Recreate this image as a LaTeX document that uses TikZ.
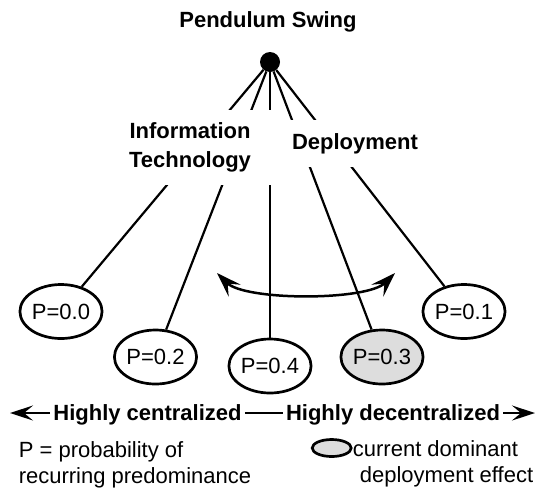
\documentclass[tikz,border=0pt]{standalone}
\usepackage{fontspec}
\setmainfont{Liberation Sans}
\usetikzlibrary{arrows.meta,shapes.geometric}
\definecolor{dominant}{RGB}{221,221,221}
\tikzset{
  axistip/.tip={Stealth[length=23pt, width=15pt, inset=9pt]},
  swingtip/.tip={Stealth[length=25pt, width=17pt, inset=10pt]}}
\begin{document}
\begin{tikzpicture}[x=1pt,y=-1pt,
  txt/.style={font=\fontsize{22}{26}\selectfont, inner sep=0pt},
  bold/.style={font=\fontsize{22}{28.5}\selectfont\bfseries, inner sep=0pt},
  state/.style={ellipse, draw, line width=2.7pt, fill=white, inner sep=0pt,
    minimum width=81pt, minimum height=54pt, font=\fontsize{22}{26}\selectfont},
  rod/.style={line width=2.2pt},
  heading/.style={bold, fill=white, align=center},
  axis/.style={line width=2.2pt}]
\useasboundingbox (0,0) rectangle (537,488);

% title and pivot
\node[bold, anchor=base] (title) at (268,27) {Pendulum Swing};
\node[circle, fill=black, minimum size=20pt, inner sep=0pt] (pivot) at (270,62) {};

% pendulum bobs
\node[state] (e0) at (61,311.5) {P=0.0};
\node[state] (e2) at (155.5,357) {P=0.2};
\node[state] (e4) at (270,366) {P=0.4};
\node[state, fill=dominant] (e3) at (382,357) {P=0.3};
\node[state] (e1) at (464,311.5) {P=0.1};

% rods
\foreach \b in {e0,e2,e4,e3,e1}
  \draw[rod] (pivot) -- (\b);

% group labels laid over the rods
\node[heading, minimum width=172pt, minimum height=75pt] (it) at (190,147.5)
  {Information\\Technology};
\node[heading, minimum width=130pt, minimum height=47pt] (dep) at (355,143.5)
  {Deployment};

% swing arrow
\coordinate (swl) at (217,273);
\coordinate (swr) at (395,273);
\draw[line width=2.5pt, swingtip-swingtip] (swl) .. controls (245,301) and (367,301) .. (swr);

% centralization axis
\node[bold, anchor=base, inner xsep=3pt] (hc) at (147.5,420.7) {Highly centralized};
\node[bold, anchor=base, inner xsep=3pt] (hd) at (393,420.7) {Highly decentralized};
\coordinate (al) at (10,413);
\coordinate (ar) at (535,413);
\draw[axis, -axistip] (al -| hc.west) -- (al);
\draw[axis] (al -| hc.east) -- (al -| hd.west);
\draw[axis, -axistip] (al -| hd.east) -- (ar);

% legend
\node[txt, anchor=north west, align=left] (pdef) at (18.6,441.2)
  {P = probability of\\recurring predominance};
\node[ellipse, draw, line width=2.7pt, fill=dominant, inner sep=0pt,
  minimum width=39pt, minimum height=17pt] (key) at (331.7,448) {};
\node[txt, anchor=north west, align=left] (keytext) at (352.7,440.7)
  {current dominant\\\hspace*{7pt}deployment effect};
\end{tikzpicture}
\end{document}
